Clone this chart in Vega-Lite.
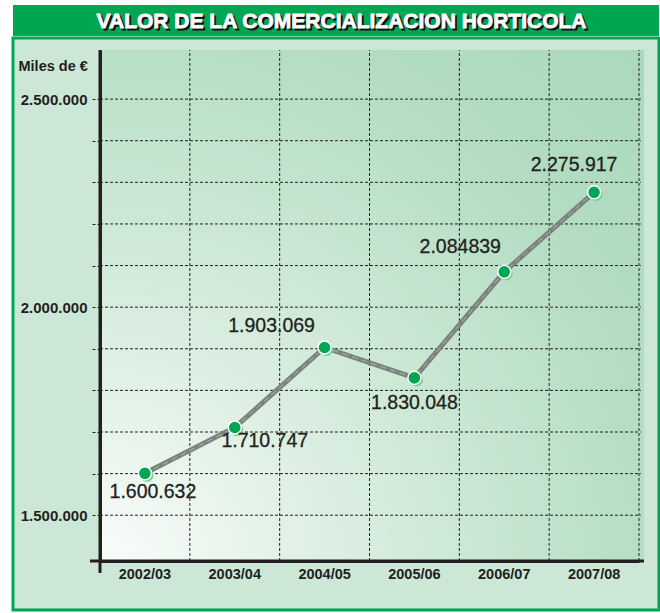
{
  "$schema": "https://vega.github.io/schema/vega-lite/v6.json",
  "padding": {"left": 11, "top": 5, "right": 0, "bottom": 0},
  "background": "#ffffff",
  "spacing": 0,
  "config": {"view": {"stroke": null}},
  "vconcat": [
    {
      "width": 646,
      "height": 31,
      "view": {"fill": "#00a651", "stroke": null},
      "data": {"values": [{"t": "VALOR DE LA COMERCIALIZACION HORTICOLA"}]},
      "layer": [
        {"mark": {"type": "text", "font": "Liberation Sans", "fontWeight": "bold", "fontSize": 21, "color": "#111111", "stroke": "#111111", "strokeWidth": 0.8, "dx": 7.5, "dy": 3, "baseline": "middle", "align": "center"}, "encoding": {"text": {"field": "t"}}},
        {"mark": {"type": "text", "font": "Liberation Sans", "fontWeight": "bold", "fontSize": 21, "color": "#ffffff", "stroke": "#ffffff", "strokeWidth": 0.8, "dx": 5.5, "dy": 1, "baseline": "middle", "align": "center"}, "encoding": {"text": {"field": "t"}}}
      ]
    },
    {
      "width": 646,
      "height": 572,
      "view": {"fill": "#cde7d6", "stroke": "#00a651", "strokeWidth": 3},
      "resolve": {"scale": {"x": "independent"}},
      "layer": [
        {
          "layer": [
            {
              "data": {"values": [{"k": "plot"}]},
              "mark": {"type": "rect", "fill": {"gradient": "radial", "x1": 0, "y1": 1, "r1": 0, "x2": 0, "y2": 1, "r2": 1.45, "stops": [{"offset": 0, "color": "#fafdfb"}, {"offset": 0.25, "color": "#e1f1e6"}, {"offset": 0.5, "color": "#c8e6d1"}, {"offset": 0.72, "color": "#b4ddc3"}, {"offset": 1, "color": "#a9d8b9"}]}},
              "encoding": {
                "x": {"datum": 0, "type": "quantitative", "scale": {"domain": [0, 1], "range": [87, 631], "nice": false, "zero": false}, "axis": null},
                "x2": {"datum": 1},
                "y": {"datum": 1390000, "type": "quantitative", "scale": {"domain": [1390000, 2618000], "range": [523, 12], "nice": false, "zero": false}},
                "y2": {"datum": 2618000}
              }
            },
            {
              "data": {"values": [{"g": 1500000}, {"g": 1600000}, {"g": 1700000}, {"g": 1800000}, {"g": 1900000}, {"g": 2000000}, {"g": 2100000}, {"g": 2200000}, {"g": 2300000}, {"g": 2400000}, {"g": 2500000}]},
              "mark": {"type": "rule", "color": "#231f20", "strokeWidth": 1, "strokeDash": [3, 2]},
              "encoding": {
                "x": {"datum": 0, "type": "quantitative", "axis": null},
                "x2": {"datum": 0.994},
                "y": {"field": "g", "type": "quantitative"}
              }
            },
            {
              "data": {"values": [{"k": "xaxis"}]},
              "mark": {"type": "rule", "color": "#231f20", "strokeWidth": 3},
              "encoding": {
                "x": {"datum": -0.0184, "type": "quantitative", "axis": null},
                "x2": {"datum": 1},
                "y": {"datum": 1390000, "type": "quantitative"}
              }
            },
            {
              "data": {"values": [{"k": "yaxis"}]},
              "mark": {"type": "rule", "color": "#231f20", "strokeWidth": 3},
              "encoding": {
                "x": {"datum": 0, "type": "quantitative", "axis": null},
                "y": {"datum": 1361000, "type": "quantitative"},
                "y2": {"datum": 2618000}
              }
            }
          ]
        },
        {
          "data": {"values": [
            {"season": "2002/03", "value": 1600632, "label": "1.600.632"},
            {"season": "2003/04", "value": 1710747, "label": "1.710.747"},
            {"season": "2004/05", "value": 1903069, "label": "1.903.069"},
            {"season": "2005/06", "value": 1830048, "label": "1.830.048"},
            {"season": "2006/07", "value": 2084839, "label": "2.084839"},
            {"season": "2007/08", "value": 2275917, "label": "2.275.917"}
          ]},
          "layer": [
            {
              "mark": {"type": "rule", "color": "#231f20", "strokeWidth": 1, "strokeDash": [3, 2]},
              "encoding": {
                "x": {"field": "season", "type": "nominal", "bandPosition": 0, "scale": {"type": "band", "range": [87, 626], "paddingInner": 0, "paddingOuter": 0}, "axis": {"orient": "bottom", "offset": -49, "bandPosition": 0.5, "grid": false, "ticks": false, "tickSize": 0, "domainColor": "#231f20", "domainWidth": 3, "labelFont": "Liberation Sans", "labelFontWeight": "bold", "labelFontSize": 14.5, "labelColor": "#231f20", "labelPadding": 13, "labelBaseline": "middle", "labelAngle": 0, "title": null, "zindex": 1}},
                "y": {"datum": 1390000, "type": "quantitative", "axis": {"orient": "left", "offset": -87, "values": [1500000, 1600000, 1700000, 1800000, 1900000, 2000000, 2100000, 2200000, 2300000, 2400000, 2500000], "labelExpr": "datum.value % 500000 === 0 ? replace(replace(format(datum.value, ','), ',', '.'), ',', '.') : ''", "grid": false, "domainColor": "#231f20", "domainWidth": 3, "tickColor": "#231f20", "tickSize": 10, "tickWidth": 1, "tickDash": [3, 2], "labelFont": "Liberation Sans", "labelFontWeight": "bold", "labelFontSize": 15, "labelColor": "#231f20", "labelPadding": 3, "labelOverlap": false, "labelFlush": false, "title": "Miles de €", "titleAngle": 0, "titleAlign": "left", "titleBaseline": "middle", "titleX": -82, "titleY": 28, "titleFont": "Liberation Sans", "titleFontWeight": "bold", "titleFontSize": 14.5, "titleColor": "#231f20", "zindex": 1}},
                "y2": {"datum": 2618000}
              }
            },
            {
              "transform": [{"filter": "datum.season == '2007/08'"}],
              "mark": {"type": "rule", "color": "#231f20", "strokeWidth": 1, "strokeDash": [3, 2]},
              "encoding": {
                "x": {"field": "season", "type": "nominal", "bandPosition": 1},
                "y": {"datum": 1390000, "type": "quantitative"},
                "y2": {"datum": 2618000}
              }
            },
            {
              "mark": {"type": "line", "color": "#808080", "strokeWidth": 5},
              "encoding": {
                "x": {"field": "season", "type": "nominal"},
                "y": {"field": "value", "type": "quantitative"}
              }
            },
            {
              "mark": {"type": "line", "color": "#7fd09a", "strokeWidth": 1, "strokeDash": [6, 4]},
              "encoding": {
                "x": {"field": "season", "type": "nominal"},
                "y": {"field": "value", "type": "quantitative"}
              }
            },
            {
              "mark": {"type": "circle", "color": "#7fcd98", "opacity": 1, "size": 170, "xOffset": 2, "yOffset": 2},
              "encoding": {
                "x": {"field": "season", "type": "nominal"},
                "y": {"field": "value", "type": "quantitative"}
              }
            },
            {
              "mark": {"type": "circle", "fill": "#00a651", "stroke": "#ffffff", "strokeWidth": 1.5, "opacity": 1, "size": 170},
              "encoding": {
                "x": {"field": "season", "type": "nominal"},
                "y": {"field": "value", "type": "quantitative"}
              }
            },
            {
              "transform": [{"filter": "datum.season == '2002/03'"}],
              "mark": {"type": "text", "font": "Liberation Sans", "fontSize": 19.5, "color": "#231f20", "stroke": "#231f20", "strokeWidth": 0.3, "align": "center", "baseline": "middle", "dx": 8, "dy": 19},
              "encoding": {"x": {"field": "season", "type": "nominal"}, "y": {"field": "value", "type": "quantitative"}, "text": {"field": "label"}}
            },
            {
              "transform": [{"filter": "datum.season == '2003/04'"}],
              "mark": {"type": "text", "font": "Liberation Sans", "fontSize": 19.5, "color": "#231f20", "stroke": "#231f20", "strokeWidth": 0.3, "align": "center", "baseline": "middle", "dx": 30, "dy": 13},
              "encoding": {"x": {"field": "season", "type": "nominal"}, "y": {"field": "value", "type": "quantitative"}, "text": {"field": "label"}}
            },
            {
              "transform": [{"filter": "datum.season == '2004/05'"}],
              "mark": {"type": "text", "font": "Liberation Sans", "fontSize": 19.5, "color": "#231f20", "stroke": "#231f20", "strokeWidth": 0.3, "align": "center", "baseline": "middle", "dx": -53, "dy": -21},
              "encoding": {"x": {"field": "season", "type": "nominal"}, "y": {"field": "value", "type": "quantitative"}, "text": {"field": "label"}}
            },
            {
              "transform": [{"filter": "datum.season == '2005/06'"}],
              "mark": {"type": "text", "font": "Liberation Sans", "fontSize": 19.5, "color": "#231f20", "stroke": "#231f20", "strokeWidth": 0.3, "align": "center", "baseline": "middle", "dx": 0, "dy": 25},
              "encoding": {"x": {"field": "season", "type": "nominal"}, "y": {"field": "value", "type": "quantitative"}, "text": {"field": "label"}}
            },
            {
              "transform": [{"filter": "datum.season == '2006/07'"}],
              "mark": {"type": "text", "font": "Liberation Sans", "fontSize": 19.5, "color": "#231f20", "stroke": "#231f20", "strokeWidth": 0.3, "align": "center", "baseline": "middle", "dx": -44, "dy": -25},
              "encoding": {"x": {"field": "season", "type": "nominal"}, "y": {"field": "value", "type": "quantitative"}, "text": {"field": "label"}}
            },
            {
              "transform": [{"filter": "datum.season == '2007/08'"}],
              "mark": {"type": "text", "font": "Liberation Sans", "fontSize": 19.5, "color": "#231f20", "stroke": "#231f20", "strokeWidth": 0.3, "align": "center", "baseline": "middle", "dx": -20, "dy": -27},
              "encoding": {"x": {"field": "season", "type": "nominal"}, "y": {"field": "value", "type": "quantitative"}, "text": {"field": "label"}}
            }
          ]
        }
      ]
    }
  ]
}
